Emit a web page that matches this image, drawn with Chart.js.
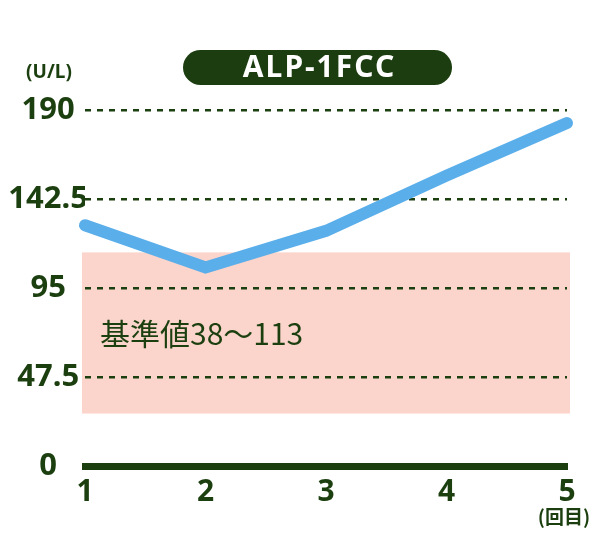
<!DOCTYPE html>
<html>
<head>
<meta charset="utf-8">
<script src="https://cdn.jsdelivr.net/npm/chart.js@4/dist/chart.umd.min.js"></script>
<style>
  html, body { margin: 0; padding: 0; background: #fff; }
  #wrap { width: 600px; height: 550px; }
</style>
</head>
<body>
<div id="wrap"><canvas id="alpChart" width="600" height="550"></canvas></div>
<script>
// data
const visits = ['1', '2', '3', '4', '5'];
const alpValues = [128.5, 106, 125.5, 155, 183];
const yTicks = [0, 47.5, 95, 142.5, 190];
const refBand = [28, 114];   // drawn extent of the shaded reference range
const refLabel = '基準値38〜113';

const DARK = '#1c3f10';
const FONT = '"Noto Sans", "Noto Sans CJK JP", sans-serif';

const decorPlugin = {
  id: 'decor',
  beforeDraw(chart) {
    const { ctx, chartArea, scales } = chart;
    const yTop = scales.y.getPixelForValue(refBand[1]);
    const yBot = scales.y.getPixelForValue(refBand[0]);
    ctx.save();
    ctx.fillStyle = '#fbd5cb';
    ctx.fillRect(chartArea.left - 3, yTop, chartArea.right - chartArea.left + 6, yBot - yTop);
    ctx.fillStyle = DARK;
    ctx.font = '400 30px "Noto Sans CJK JP", sans-serif';
    ctx.textBaseline = 'middle';
    ctx.fillText(refLabel, 100, 334);
    ctx.restore();
  },
  afterDraw(chart) {
    const { ctx } = chart;
    ctx.save();
    // title pill
    const x = 183, y = 50, w = 269, h = 35, r = 17.5;
    ctx.fillStyle = '#1b3d0f';
    ctx.beginPath();
    ctx.moveTo(x + r, y);
    ctx.lineTo(x + w - r, y);
    ctx.arc(x + w - r, y + r, r, -Math.PI / 2, Math.PI / 2);
    ctx.lineTo(x + r, y + h);
    ctx.arc(x + r, y + r, r, Math.PI / 2, Math.PI * 1.5);
    ctx.fill();
    ctx.fillStyle = '#fff';
    ctx.font = 'bold 30px ' + FONT;
    ctx.textAlign = 'center';
    ctx.textBaseline = 'middle';
    ctx.letterSpacing = '2px';
    ctx.fillText('ALP-1FCC', x + w / 2 + 2, y + h / 2 + 1);
    ctx.letterSpacing = '0px';
    // unit labels
    ctx.fillStyle = DARK;
    ctx.font = 'bold 19px ' + FONT;
    ctx.fillText('(U/L)', 49, 73);
    ctx.font = 'bold 19px "Noto Sans CJK JP", sans-serif';
    ctx.fillText('(回目)', 564, 517);
    ctx.restore();
  }
};

const ctx = document.getElementById('alpChart').getContext('2d');
new Chart(ctx, {
  type: 'line',
  data: {
    labels: visits,
    datasets: [{
      data: alpValues,
      borderColor: '#5aaeea',
      borderWidth: 12,
      borderCapStyle: 'round',
      borderJoinStyle: 'miter',
      tension: 0,
      pointRadius: 0,
      clip: false
    }]
  },
  options: {
    responsive: false,
    animation: false,
    layout: { padding: { top: 110, right: 33, bottom: 32, left: 0 } },
    plugins: {
      legend: { display: false },
      tooltip: { enabled: false }
    },
    scales: {
      x: {
        offset: false,
        grid: { display: false, drawTicks: false },
        border: { display: true, color: DARK, width: 7 },
        ticks: {
          color: DARK,
          padding: 8,
          font: { family: FONT, size: 30, weight: 'bold' }
        }
      },
      y: {
        min: 0,
        max: 190,
        afterBuildTicks: scale => { scale.ticks = yTicks.map(v => ({ value: v })); },
        afterFit: scale => { scale.width = 85; },
        grid: {
          drawTicks: false,
          color: DARK,
          lineWidth: c => (c.tick && c.tick.value === 0 ? 0 : 2.5)
        },
        border: { display: false, dash: [6, 6] },
        ticks: {
          color: DARK,
          padding: -3,
          crossAlign: 'center',
          font: { family: FONT, size: 31, weight: 'bold' },
          callback: v => String(v)
        }
      }
    }
  },
  plugins: [decorPlugin]
});
</script>
</body>
</html>
